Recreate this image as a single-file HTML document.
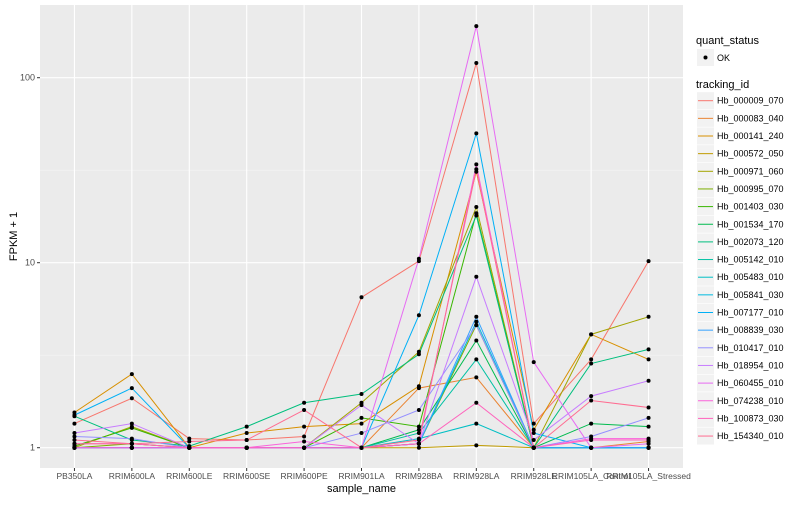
<!DOCTYPE html>
<html><head><meta charset="utf-8"><style>
body{margin:0;background:#fff;}
svg text{font-family:"Liberation Sans",sans-serif;}
</style></head><body>
<svg id="chart" width="800" height="500">
</svg>
<script>
const categories=["PB350LA","RRIM600LA","RRIM600LE","RRIM600SE","RRIM600PE","RRIM901LA","RRIM928BA","RRIM928LA","RRIM928LE","RRIM105LA_Control","RRIM105LA_Stressed"];
const seriesNames=["Hb_000009_070","Hb_000083_040","Hb_000141_240","Hb_000572_050","Hb_000971_060","Hb_000995_070","Hb_001403_030","Hb_001534_170","Hb_002073_120","Hb_005142_010","Hb_005483_010","Hb_005841_030","Hb_007177_010","Hb_008839_030","Hb_010417_010","Hb_018954_010","Hb_060455_010","Hb_074238_010","Hb_100873_030","Hb_154340_010"];
const colors=["#F8766D","#EA8331","#D89000","#C09B00","#A3A500","#7CAE00","#39B600","#00BB4E","#00BF7D","#00C1A3","#00BFC4","#00BAE0","#00B0F6","#35A2FF","#9590FF","#C77CFF","#E76BF3","#FA62DB","#FF62BC","#FF6C91"];
const s00=[1.35,1.85,1.12,1.1,1.15,6.5,10.2,120,1.35,3.0,10.2];
const s01=[1.05,1.05,1.0,1.0,1.0,1.0,2.1,2.4,1.0,1.0,1.08];
const s02=[1.55,2.5,1.0,1.2,1.3,1.35,2.15,31,1.25,4.1,3.0];
const s03=[1.0,1.0,1.0,1.0,1.0,1.0,1.0,1.03,1.0,1.0,1.0];
const s04=[1.0,1.3,1.0,1.0,1.0,1.75,3.3,20,1.0,4.1,5.1];
const s05=[1.0,1.05,1.0,1.0,1.0,1.0,1.05,4.6,1.0,1.0,1.0];
const s06=[1.02,1.28,1.0,1.0,1.0,1.45,1.3,18.5,1.0,1.0,1.0];
const s07=[1.0,1.0,1.0,1.0,1.0,1.0,1.25,3.8,1.0,1.35,1.3];
const s08=[1.48,1.1,1.02,1.3,1.75,1.95,3.2,18,1.0,2.85,3.4];
const s09=[1.0,1.0,1.0,1.0,1.0,1.0,1.2,3.0,1.0,1.0,1.0];
const s10=[1.0,1.0,1.0,1.0,1.0,1.0,1.12,1.35,1.0,1.0,1.0];
const s11=[1.0,1.0,1.0,1.0,1.0,1.0,1.05,4.8,1.0,1.0,1.0];
const s12=[1.5,2.1,1.0,1.0,1.0,1.0,5.2,50,1.2,1.0,1.0];
const s13=[1.0,1.0,1.0,1.0,1.0,1.0,1.05,5.1,1.0,1.0,1.0];
const s14=[1.15,1.12,1.0,1.0,1.0,1.2,1.6,4.6,1.0,1.15,1.45];
const s15=[1.2,1.35,1.0,1.0,1.0,1.7,1.05,8.4,1.1,1.9,2.3];
const s16=[1.0,1.0,1.0,1.0,1.0,1.0,10.5,190,2.9,1.0,1.05];
const s17=[1.0,1.0,1.0,1.0,1.08,1.0,1.05,34,1.0,1.12,1.12];
const s18=[1.05,1.05,1.0,1.0,1.0,1.0,1.05,1.75,1.0,1.1,1.1];
const s19=[1.1,1.05,1.08,1.1,1.6,1.0,1.1,32,1.0,1.8,1.65];
const seriesValues=[s00,s01,s02,s03,s04,s05,s06,s07,s08,s09,s10,s11,s12,s13,s14,s15,s16,s17,s18,s19];
const yTicks=[1,10,100];
const yTickLabels=["1","10","100"];

const NS="http://www.w3.org/2000/svg";
const svg=document.getElementById('chart');
const PL=40,PR=683,PT=5,PB=468;
const step=(PR-PL)/(categories.length-1+1.2);
function xScale(i){return PL+step*(0.6+i);}
function yScale(v){return 447.7-185*Math.log10(v);}
function mk(tag,attrs,parent){const e=document.createElementNS(NS,tag);for(const k in attrs)e.setAttribute(k,attrs[k]);(parent||svg).appendChild(e);return e;}

const panel=mk('rect',{x:PL,y:PT,width:PR-PL,height:PB-PT,fill:'#EBEBEB'});


// minor grid
[Math.sqrt(10),Math.sqrt(1000)].forEach(v=>{mk('line',{x1:PL,x2:PR,y1:yScale(v),y2:yScale(v),stroke:'#F5F5F5','stroke-width':0.6});});
const gy=mk('g',{});


yTicks.forEach((v,i)=>{
  mk('line',{x1:PL,x2:PR,y1:yScale(v),y2:yScale(v),stroke:'#fff','stroke-width':1.1},gy);
  mk('line',{x1:PL-3,x2:PL,y1:yScale(v),y2:yScale(v),stroke:'#333','stroke-width':1});
  const t=mk('text',{x:PL-5,y:yScale(v)+3,'text-anchor':'end','font-size':9,fill:'#4D4D4D'});
  t.textContent=yTickLabels[i];
  
  
});
categories.forEach((c,i)=>{
  const x=xScale(i);
  mk('line',{x1:x,x2:x,y1:PT,y2:PB,stroke:'#fff','stroke-width':1.1});
  mk('line',{x1:x,x2:x,y1:PB,y2:PB+3,stroke:'#333','stroke-width':1});
  const t=mk('text',{x:x,y:PB+11,'text-anchor':'middle','font-size':8.5,fill:'#4D4D4D'});
  t.textContent=c;
  
  
});
seriesValues.forEach((vals,si)=>{
  const p=mk('polyline',{points:vals.map((v,i)=>xScale(i)+','+yScale(v)).join(' '),fill:'none',stroke:colors[si],'stroke-width':1});
  
  
});
seriesValues.forEach((vals,si)=>{
  vals.forEach((v,i)=>{
    const c=mk('circle',{cx:xScale(i),cy:yScale(v),r:2,fill:'#000'});
    
    
  });
});
const xt=mk('text',{x:(PL+PR)/2,y:492,'text-anchor':'middle','font-size':11,fill:'#000'});
xt.textContent='sample_name';


const yt=mk('text',{x:0,y:0,'text-anchor':'middle','font-size':11,fill:'#000',transform:'translate(17,'+((PT+PB)/2)+') rotate(-90)'});
yt.textContent='FPKM + 1';



// legend
const lg=mk('g',{});


const qt=mk('text',{x:696,y:44,'font-size':11,fill:'#000'},lg);qt.textContent='quant_status';
mk('rect',{x:697,y:49,width:17,height:17,fill:'#F2F2F2'},lg);
mk('circle',{cx:705.5,cy:57.5,r:2,fill:'#000'},lg);
const ok=mk('text',{x:717,y:61,'font-size':9,fill:'#000'},lg);ok.textContent='OK';
const tt=mk('text',{x:696,y:88,'font-size':11,fill:'#000'},lg);tt.textContent='tracking_id';
seriesNames.forEach((n,i)=>{
  const y=100.7+i*17.65;
  const g=mk('g',{},lg);
  
  
  mk('rect',{x:697,y:y-8.5,width:17,height:17,fill:'#F2F2F2'},g);
  mk('line',{x1:698,x2:713,y1:y,y2:y,stroke:colors[i],'stroke-width':1},g);
  const t=mk('text',{x:717,y:y+3,'font-size':9,fill:'#000'},g);t.textContent=n;
});
</script>
</body></html>
